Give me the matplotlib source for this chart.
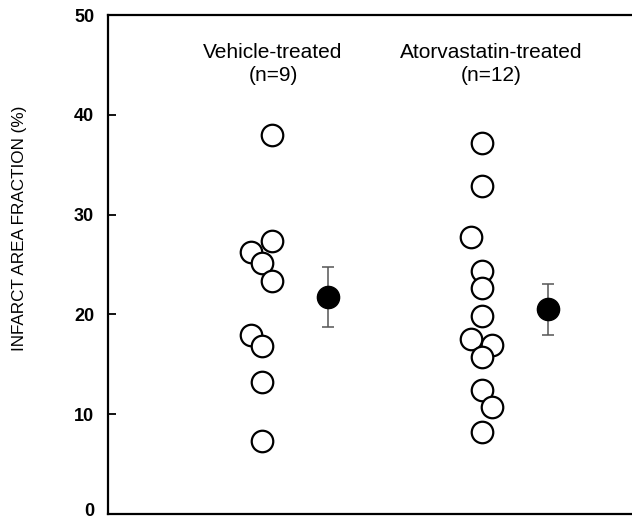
import matplotlib
matplotlib.use("Agg")
import matplotlib.pyplot as plt
import matplotlib.transforms as mtransforms
import numpy as np

plt.rcParams['font.family'] = ['Liberation Sans', 'DejaVu Sans']

groups = ["Vehicle-treated\n(n=9)", "Atorvastatin-treated\n(n=12)"]
vehicle = [38.0, 27.4, 26.3, 25.2, 23.3, 17.9, 16.8, 13.2, 7.3]
atorva = [37.2, 32.9, 27.8, 24.3, 22.6, 19.8, 17.5, 16.9, 15.7, 12.4, 10.7, 8.2]
means = [21.7, 20.5]
sems = [3.0, 2.55]
yticks = [0, 10, 20, 30, 40, 50]
ylabel = "INFARCT AREA FRACTION (%)"

# layout (horizontal jitter levels, group/mean positions)
veh_jit = [1, 1, -1, 0, 1, -1, 0, 0, 0]
ato_jit = [0, 0, -1, 0, 0, 0, -1, 1, 0, 0, 1, 0]
centers = [2.93, 7.13]
mean_x = [4.19, 8.40]
label_x = [3.15, 7.31]
step = 0.205

fig = plt.figure(figsize=(6.32, 5.22), dpi=100)
ax = fig.add_axes([108/632, 1-514/522, 524/632, (514-15)/522])

for vals, jit, c in [(vehicle, veh_jit, centers[0]), (atorva, ato_jit, centers[1])]:
    order = np.argsort(vals)[::-1]
    for i in order:
        ax.plot(c + jit[i]*step, vals[i], 'o', ms=15.5, mfc='white', mec='black',
                mew=1.6, clip_on=False, zorder=3)

ax.errorbar(mean_x, means, yerr=sems, fmt='none', ecolor='#555555', elinewidth=1.1,
            capsize=4.5, capthick=1.1, zorder=2)
ax.plot(mean_x, means, 'o', ms=16, mfc='black', mec='black', zorder=4)

for lx, g in zip(label_x, groups):
    ax.text(lx, 47.2, g, ha='center', va='top', fontsize=15, linespacing=1.25)

ax.set_xlim(0, 10)
ax.set_ylim(0, 50)
ax.set_yticks(yticks)
ax.set_yticklabels([str(t) for t in yticks], fontsize=13, fontweight='bold')
ax.set_xticks([])
ax.tick_params(axis='y', direction='in', length=6, width=1.3, pad=10)
for s in ['left', 'top', 'bottom']:
    ax.spines[s].set_linewidth(1.6)
ax.spines['right'].set_visible(False)

# nudge the "0" label up slightly so it stays inside the figure
lbl0 = ax.get_yticklabels()[0]
lbl0.set_transform(lbl0.get_transform() +
                   mtransforms.ScaledTranslation(0, 5/100, fig.dpi_scale_trans))

fig.text(20/632, 1-228/522, ylabel, rotation=90, ha='center', va='center',
         fontsize=12.3)

fig.savefig("out.png", dpi=100)
